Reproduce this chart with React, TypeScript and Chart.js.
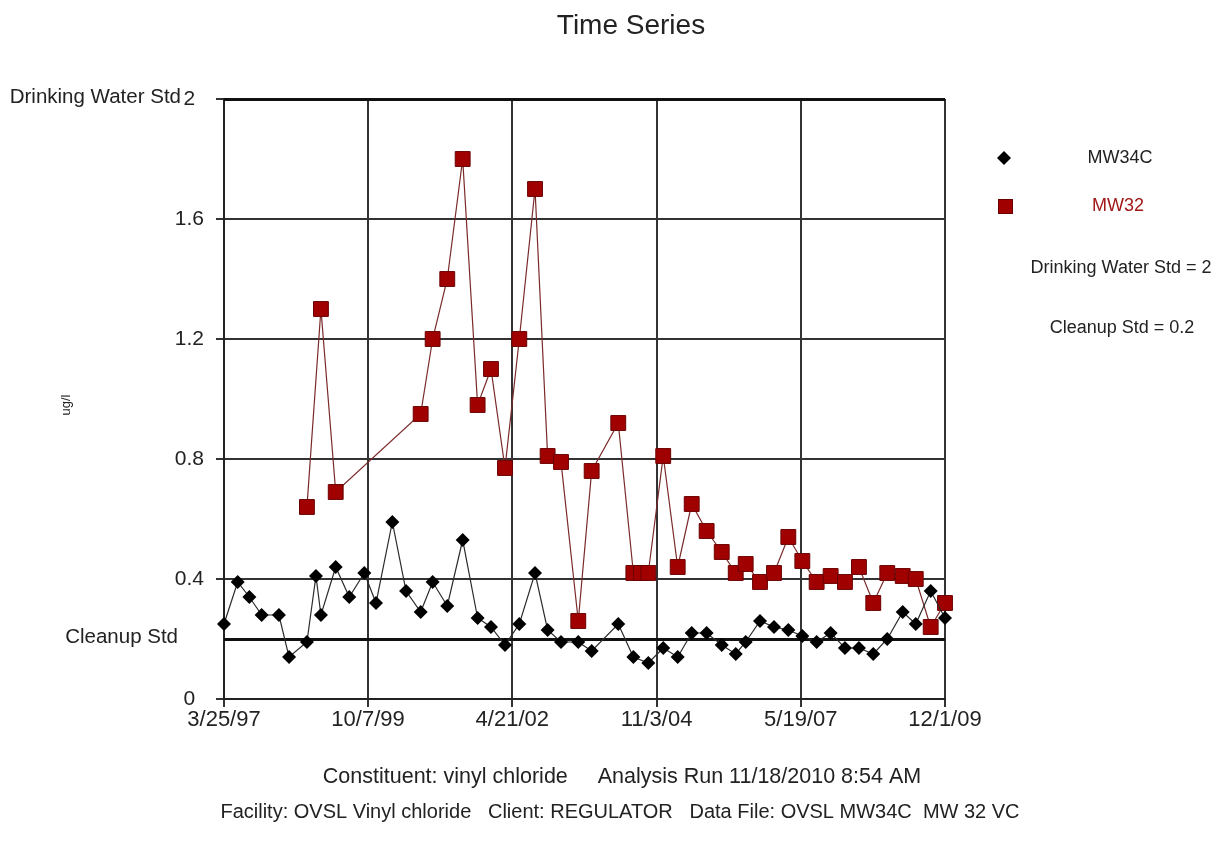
import React, { useEffect, useRef } from "react";
import { Chart, registerables } from "chart.js";

Chart.register(...registerables);

const chartTitle = "Time Series";
const yAxisTitle = "ug/l";
const seriesNames = ["MW34C", "MW32"];

const mw34cDates = [
  "1997-03-25", "1997-06-21", "1997-09-04", "1997-11-22", "1998-03-13", "1998-05-17",
  "1998-09-09", "1998-11-06", "1998-12-08", "1999-03-13", "1999-06-08", "1999-09-13",
  "1999-11-27", "2000-03-11", "2000-06-07", "2000-09-09", "2000-11-25", "2001-02-27",
  "2001-06-06", "2001-09-10", "2001-12-05", "2002-03-05", "2002-06-05", "2002-09-14",
  "2002-12-04", "2003-02-28", "2003-06-19", "2003-09-13", "2004-03-02", "2004-06-07",
  "2004-09-11", "2004-12-16", "2005-03-19", "2005-06-17", "2005-09-21", "2005-12-27",
  "2006-03-27", "2006-05-30", "2006-08-30", "2006-11-28", "2007-02-28", "2007-05-29",
  "2007-08-29", "2007-11-27", "2008-02-27", "2008-05-27", "2008-08-27", "2008-11-25",
  "2009-03-04", "2009-05-27", "2009-08-31", "2009-12-01",
];
const mw34cValues = [
  0.25, 0.39, 0.34, 0.28, 0.28, 0.14, 0.19, 0.41, 0.28, 0.44,
  0.34, 0.42, 0.32, 0.59, 0.36, 0.29, 0.39, 0.31, 0.53, 0.27,
  0.24, 0.18, 0.25, 0.42, 0.23, 0.19, 0.19, 0.16, 0.25, 0.14,
  0.12, 0.17, 0.14, 0.22, 0.22, 0.18, 0.15, 0.19, 0.26, 0.24,
  0.23, 0.21, 0.19, 0.22, 0.17, 0.17, 0.15, 0.2, 0.29, 0.25,
  0.36, 0.27,
];

const mw32Dates = [
  "1998-09-09", "1998-12-08", "1999-03-13", "2000-09-09", "2000-11-25", "2001-02-27",
  "2001-06-06", "2001-09-10", "2001-12-05", "2002-03-05", "2002-06-05", "2002-09-14",
  "2002-12-04", "2003-02-28", "2003-06-19", "2003-09-13", "2004-03-02", "2004-06-07",
  "2004-07-26", "2004-09-11", "2004-12-16", "2005-03-19", "2005-06-17", "2005-09-21",
  "2005-12-27", "2006-03-27", "2006-05-30", "2006-08-30", "2006-11-28", "2007-02-28",
  "2007-05-29", "2007-08-29", "2007-11-27", "2008-02-27", "2008-05-27", "2008-08-27",
  "2008-11-25", "2009-03-04", "2009-05-27", "2009-08-31", "2009-12-01",
];
const mw32Values = [
  0.64, 1.3, 0.69, 0.95, 1.2, 1.4, 1.8, 0.98, 1.1, 0.77,
  1.2, 1.7, 0.81, 0.79, 0.26, 0.76, 0.92, 0.42, 0.42, 0.42,
  0.81, 0.44, 0.65, 0.56, 0.49, 0.42, 0.45, 0.39, 0.42, 0.54,
  0.46, 0.39, 0.41, 0.39, 0.44, 0.32, 0.42, 0.41, 0.4, 0.24,
  0.32,
];

const xTickLabels = ["3/25/97", "10/7/99", "4/21/02", "11/3/04", "5/19/07", "12/1/09"];
const yMin = 0;
const yMax = 2;
const yStep = 0.4;

const drinkingWaterStd = 2;
const cleanupStd = 0.2;
const standardLabels = ["Drinking Water Std", "Cleanup Std"];
const legendNotes = ["Drinking Water Std = 2", "Cleanup Std = 0.2"];
const footerLines = [
  "Constituent: vinyl chloride     Analysis Run 11/18/2010 8:54 AM",
  "Facility: OVSL Vinyl chloride   Client: REGULATOR   Data File: OVSL MW34C  MW 32 VC",
];

const FONT = '"Liberation Sans", Arial, sans-serif';
const TEXT = "#222";
const RED = "#a00000";
const RED_TEXT = "#a01818";

function isoToDay(s: string): number {
  const [y, m, d] = s.split("-").map(Number);
  return Date.UTC(y, m - 1, d) / 86400000;
}
function mdyToDay(s: string): number {
  const [m, d, y] = s.split("/").map(Number);
  const yr = y < 50 ? 2000 + y : 1900 + y;
  return Date.UTC(yr, m - 1, d) / 86400000;
}

const xTickDays = xTickLabels.map(mdyToDay);

const decorations = {
  id: "decorations",
  beforeDatasetsDraw(chart: any) {
    const { ctx, chartArea, scales } = chart;
    const y = scales.y;
    ctx.save();
    ctx.strokeStyle = "#111";
    ctx.lineWidth = 3;
    for (const v of [drinkingWaterStd, cleanupStd]) {
      const py = Math.round(y.getPixelForValue(v)) + 0.5;
      ctx.beginPath();
      ctx.moveTo(chartArea.left, py);
      ctx.lineTo(chartArea.right, py);
      ctx.stroke();
    }
    ctx.restore();
  },
  afterDraw(chart: any) {
    const { ctx, scales } = chart;
    const y = scales.y;
    ctx.save();
    ctx.fillStyle = TEXT;
    ctx.textBaseline = "middle";

    // title
    ctx.textAlign = "center";
    ctx.font = `28px ${FONT}`;
    ctx.fillText(chartTitle, 631, 26);

    // standard labels on the left
    ctx.font = `20.5px ${FONT}`;
    ctx.textAlign = "right";
    ctx.fillText(standardLabels[0], 181, y.getPixelForValue(drinkingWaterStd) - 2);
    ctx.fillText(standardLabels[1], 178, y.getPixelForValue(cleanupStd) - 2);

    // y axis title
    ctx.save();
    ctx.translate(66, 405);
    ctx.rotate(-Math.PI / 2);
    ctx.textAlign = "center";
    ctx.font = `13px ${FONT}`;
    ctx.fillText(yAxisTitle, 0, 0);
    ctx.restore();

    // legend
    ctx.font = `18px ${FONT}`;
    ctx.textAlign = "center";
    ctx.fillStyle = "#000";
    ctx.beginPath();
    ctx.moveTo(1004, 151);
    ctx.lineTo(1011, 158);
    ctx.lineTo(1004, 165);
    ctx.lineTo(997, 158);
    ctx.closePath();
    ctx.fill();
    ctx.fillStyle = TEXT;
    ctx.fillText(seriesNames[0], 1120, 158);
    ctx.fillStyle = RED;
    ctx.fillRect(998, 199, 15, 15);
    ctx.strokeStyle = "#6b0000";
    ctx.lineWidth = 1;
    ctx.strokeRect(998.5, 199.5, 14, 14);
    ctx.fillStyle = RED_TEXT;
    ctx.fillText(seriesNames[1], 1118, 206);
    ctx.fillStyle = TEXT;
    ctx.fillText(legendNotes[0], 1121, 268);
    ctx.fillText(legendNotes[1], 1122, 328);

    // footer
    ctx.font = `21.5px ${FONT}`;
    ctx.fillText(footerLines[0], 622, 777);
    ctx.font = `20px ${FONT}`;
    ctx.fillText(footerLines[1], 620, 812);
    ctx.restore();
  },
};

export default function App() {
  const ref = useRef<HTMLCanvasElement | null>(null);

  useEffect(() => {
    if (!ref.current) return;
    const xMin = xTickDays[0];
    const xMax = xTickDays[xTickDays.length - 1];
    const chart = new Chart(ref.current, {
      type: "line",
      data: {
        datasets: [
          {
            label: seriesNames[0],
            data: mw34cDates.map((d, i) => ({ x: isoToDay(d), y: mw34cValues[i] })),
            borderColor: "#2a2a2a",
            borderWidth: 1.2,
            backgroundColor: "#000",
            pointStyle: "rectRot",
            pointRadius: 7,
            pointBorderWidth: 0,
            pointBackgroundColor: "#000",
            tension: 0,
            clip: false as any,
          },
          {
            label: seriesNames[1],
            data: mw32Dates.map((d, i) => ({ x: isoToDay(d), y: mw32Values[i] })),
            borderColor: "#7a2a2a",
            borderWidth: 1.2,
            backgroundColor: RED,
            pointStyle: "rect",
            pointRadius: 10.5,
            pointBorderWidth: 1,
            pointBorderColor: "#6b0000",
            pointBackgroundColor: RED,
            tension: 0,
            clip: false as any,
          },
        ],
      },
      options: {
        animation: false,
        responsive: false,
        devicePixelRatio: 1,
        events: [],
        layout: { padding: { top: 99, right: 270, bottom: 0, left: 0 } },
        plugins: {
          legend: { display: false },
          title: { display: false },
          tooltip: { enabled: false },
        },
        scales: {
          x: {
            type: "linear",
            min: xMin,
            max: xMax,
            afterBuildTicks: (scale: any) => {
              scale.ticks = xTickDays.map((v) => ({ value: v }));
            },
            afterFit: (scale: any) => {
              scale.height = 147;
            },
            ticks: {
              autoSkip: false,
              maxRotation: 0,
              padding: 0,
              color: TEXT,
              font: { family: FONT, size: 22 },
              callback: (_v: any, i: number) => xTickLabels[i],
            },
            grid: {
              color: "#333",
              lineWidth: 2,
              tickLength: 8,
              tickColor: "#333",
              tickWidth: 2,
            },
            border: { display: true, color: "#222", width: 2 },
          },
          y: {
            type: "linear",
            min: yMin,
            max: yMax,
            afterFit: (scale: any) => {
              scale.width = 224;
            },
            ticks: {
              stepSize: yStep,
              padding: 12,
              crossAlign: "center",
              color: TEXT,
              font: { family: FONT, size: 21 },
              callback: (v: any) => String(Math.round(Number(v) * 10) / 10),
            },
            grid: {
              color: "#333",
              lineWidth: 2,
              tickLength: 8,
              tickColor: "#333",
              tickWidth: 2,
            },
            border: { display: true, color: "#222", width: 2 },
          },
        },
      },
      plugins: [decorations],
    });
    return () => chart.destroy();
  }, []);

  return (
    <div style={{ position: "absolute", left: 0, top: 0, width: 1215, height: 846, background: "#fff" }}>
      <canvas ref={ref} width={1215} height={846} style={{ display: "block" }} />
    </div>
  );
}
